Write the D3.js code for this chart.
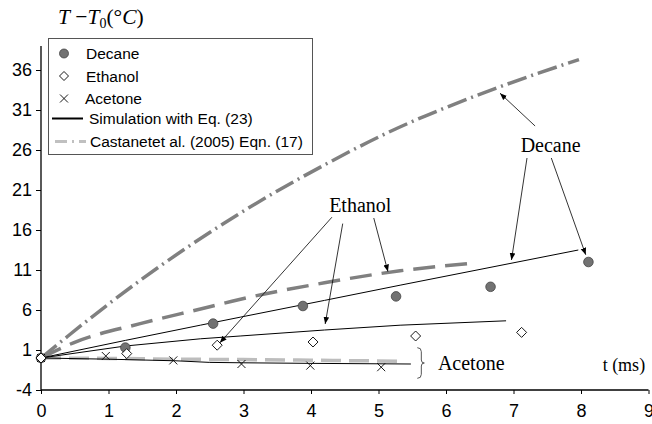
<!DOCTYPE html>
<html><head><meta charset="utf-8">
<script src="https://cdn.jsdelivr.net/npm/d3@7"></script>
<style>body{margin:0;background:#fff}svg{display:block}</style>
</head><body>
<svg id="c" width="652" height="424"></svg>
<script>
// ---- data ----
const xTicks = [0,1,2,3,4,5,6,7,8,9];
const yTicks = [-4,1,6,11,16,21,26,31,36];

const tDecane = [0, 1.25, 2.55, 3.88, 5.26, 6.66, 8.11];
const decane  = [0, 1.3, 4.3, 6.5, 7.7, 8.9, 12.0];
const tEthanol = [0, 1.27, 2.61, 4.03, 5.55, 7.12];
const ethanol  = [0, 0.55, 1.6, 2.0, 2.75, 3.2];
const tAcetone = [0, 0.96, 1.96, 2.97, 3.99, 5.04];
const acetone  = [0, 0.25, -0.3, -0.75, -0.95, -1.15];

const tSimDecane = [0, 1.25, 2.36, 2.95, 4.2, 5.32, 7.96];
const simDecane  = [0, 2.2, 4.1, 5.1, 7.2, 9.1, 13.5];
const tSimEthanol = [0, 1.25, 2.36, 2.95, 4.2, 5.32, 6.89];
const simEthanol  = [0, 1.5, 2.4, 2.75, 3.5, 4.1, 4.65];
const tSimAcetone = [0, 1, 2, 2.5, 3, 4, 5.48];
const simAcetone  = [0, -0.15, -0.35, -0.55, -0.6, -0.67, -0.75];

const tCastDecane = [0, 0.4, 1.42, 2.93, 4.28, 5.02, 6.8, 7.97];
const castDecane  = [0, 2.75, 9.4, 18, 24.5, 27.7, 33.9, 37.3];
const tCastEthanol = [0, 0.48, 1.47, 2.5, 2.83, 4.2, 5.32, 6.33];
const castEthanol  = [0, 1.9, 4.3, 6.4, 7.1, 9.4, 10.9, 11.8];
const tCastAcetone = [0, 1, 2, 3, 4, 5.33];
const castAcetone  = [0, -0.05, -0.15, -0.2, -0.28, -0.4];

const legendLabels = ["Decane","Ethanol","Acetone","Simulation with Eq. (23)","Castanetet al. (2005) Eqn. (17)"];

// annotations in data units: [fromX, fromY, toX, toY]
const decaneArrows = [[7.32,29,6.8,33.1],[7.2,25,6.97,12.25],[7.56,25,8.07,12.9]];
const ethanolArrows = [[4.31,17.6,2.65,1.9],[4.47,16.8,4.21,4.25],[4.93,17.5,5.14,10.8]];
const decaneLabel = {x:7.55, y:25.8, text:"Decane"};
const ethanolLabel = {x:4.73, y:18.2, text:"Ethanol"};
const acetoneLabel = {x:5.88, y:-1.5, text:"Acetone"};
const bracket = {x:5.59, y0:1.29, y1:-2.54};
const xTitle = {x:8.95, y:-1.6, text:"t (ms)"};

// ---- drawing ----
const svg = d3.select("#c");
const x = d3.scaleLinear().domain([0,9]).range([41,648.5]);
const y = d3.scaleLinear().domain([-4,39]).range([390,46]);
const zip = (a,b)=>a.map((v,i)=>[v,b[i]]);

svg.append("defs").append("marker").attr("id","ah").attr("viewBox","0 0 10 10")
  .attr("refX",10).attr("refY",5).attr("markerWidth",7).attr("markerHeight",7)
  .attr("markerUnits","userSpaceOnUse").attr("orient","auto")
  .append("path").attr("d","M0,1 L10,5 L0,9 z").attr("fill","#000");

// axes
const gx = svg.append("g").attr("transform",`translate(0,${y(-4)})`)
  .call(d3.axisBottom(x).tickValues(xTicks).tickSize(4).tickPadding(10).tickFormat(d=>String(d)));
const gy = svg.append("g").attr("transform",`translate(${x(0)},0)`)
  .call(d3.axisLeft(y).tickValues(yTicks).tickSize(5).tickPadding(4).tickFormat(d=>String(d)));
[gx,gy].forEach(g=>{
  g.select(".domain").attr("stroke","#000").attr("stroke-width",1.3);
  g.selectAll(".tick line").attr("stroke","#000");
  g.selectAll("text").attr("font-family","Liberation Sans, Arial, sans-serif").attr("font-size",18).attr("fill","#000");
});
gy.select(".domain").attr("d",`M0,${y(39)}V${y(-4)}`);
gx.select(".domain").attr("d",`M${x(0)},0H${x(9)}`);

const curve = d3.line().x(d=>x(d[0])).y(d=>y(d[1])).curve(d3.curveMonotoneX);
const lin = d3.line().x(d=>x(d[0])).y(d=>y(d[1]));

// Castanet curves
svg.append("path").attr("d",curve(zip(tCastDecane,castDecane))).attr("fill","none")
  .attr("stroke","#808080").attr("stroke-width",3.5).attr("stroke-dasharray","20,5,2,5");
svg.append("path").attr("d",curve(zip(tCastEthanol,castEthanol))).attr("fill","none")
  .attr("stroke","#808080").attr("stroke-width",3.5).attr("stroke-dasharray","22,10");
svg.append("path").attr("d",curve(zip(tCastAcetone,castAcetone))).attr("fill","none")
  .attr("stroke","#bdbdbd").attr("stroke-width",3.5).attr("stroke-dasharray","20,8");

// Simulation lines
[[tSimDecane,simDecane],[tSimEthanol,simEthanol],[tSimAcetone,simAcetone]].forEach(([t,v])=>{
  svg.append("path").attr("d",lin(zip(t,v))).attr("fill","none").attr("stroke","#000").attr("stroke-width",1);
});

// markers
const diamond = s=>`M0,${-s}L${s},0L0,${s}L${-s},0Z`;
const cross = s=>`M${-s},${-s}L${s},${s}M${-s},${s}L${s},${-s}`;
svg.append("g").selectAll("circle").data(zip(tDecane,decane)).join("circle")
  .attr("cx",d=>x(d[0])).attr("cy",d=>y(d[1])).attr("r",4.8)
  .attr("fill","#727272").attr("stroke","#444").attr("stroke-width",0.8);
svg.append("g").selectAll("path").data(zip(tAcetone,acetone)).join("path")
  .attr("transform",d=>`translate(${x(d[0])},${y(d[1])})`).attr("d",cross(4))
  .attr("stroke","#000").attr("stroke-width",0.9).attr("fill","none");
svg.append("g").selectAll("path").data(zip(tEthanol,ethanol)).join("path")
  .attr("transform",d=>`translate(${x(d[0])},${y(d[1])})`).attr("d",diamond(5))
  .attr("stroke","#000").attr("stroke-width",0.9).attr("fill","#fff");

// annotations
const serif = "Liberation Serif, Times New Roman, serif";
[...decaneArrows,...ethanolArrows].forEach(a=>{
  svg.append("line").attr("x1",x(a[0])).attr("y1",y(a[1])).attr("x2",x(a[2])).attr("y2",y(a[3]))
    .attr("stroke","#000").attr("stroke-width",0.8).attr("marker-end","url(#ah)");
});
[decaneLabel,ethanolLabel].forEach(l=>{
  svg.append("text").attr("x",x(l.x)).attr("y",y(l.y)).attr("text-anchor","middle")
    .attr("font-family",serif).attr("font-size",20).text(l.text);
});
svg.append("text").attr("x",x(acetoneLabel.x)).attr("y",y(acetoneLabel.y))
  .attr("font-family",serif).attr("font-size",20).text(acetoneLabel.text);
svg.append("text").attr("x",x(xTitle.x)).attr("y",y(xTitle.y)).attr("text-anchor","end")
  .attr("font-family",serif).attr("font-size",18).text(xTitle.text);
{
  const bx=x(bracket.x), b0=y(bracket.y0), b1=y(bracket.y1), bm=(b0+b1)/2;
  svg.append("path").attr("fill","none").attr("stroke","#555").attr("stroke-width",1)
    .attr("d",`M${bx-1},${b0} Q${bx+3},${b0} ${bx+3},${b0+4} L${bx+3},${bm-3} Q${bx+3},${bm} ${bx+6},${bm} Q${bx+3},${bm} ${bx+3},${bm+3} L${bx+3},${b1-4} Q${bx+3},${b1} ${bx-1},${b1}`);
}

// y title
const yt = svg.append("text").attr("x",58).attr("y",24).attr("font-family",serif).attr("font-size",21.5);
yt.append("tspan").attr("font-style","italic").text("T");
yt.append("tspan").text(" \u2212");
yt.append("tspan").attr("font-style","italic").text("T");
yt.append("tspan").attr("font-size",14).attr("dy",4).text("0");
yt.append("tspan").attr("dy",-4).text("(\u00B0");
yt.append("tspan").attr("font-style","italic").text("C");
yt.append("tspan").text(")");

// legend
const lg = svg.append("g");
lg.append("rect").attr("x",48.5).attr("y",38.5).attr("width",264).attr("height",116)
  .attr("fill","#fff").attr("stroke","#555").attr("stroke-width",1);
const rowY = [53.5,76,98.5,118.5,141.5];
const sans = "Liberation Sans, Arial, sans-serif";
const textX = [86,86,85,89,90];
legendLabels.forEach((t,i)=>{
  lg.append("text").attr("x",textX[i]).attr("y",rowY[i]+5.5).attr("font-family",sans).attr("font-size",15.5).text(t);
});
lg.append("circle").attr("cx",64).attr("cy",rowY[0]).attr("r",4.5).attr("fill","#727272").attr("stroke","#444").attr("stroke-width",0.8);
lg.append("path").attr("transform",`translate(64,${rowY[1]})`).attr("d",diamond(4.5)).attr("fill","#fff").attr("stroke","#000").attr("stroke-width",0.9);
lg.append("path").attr("transform",`translate(64,${rowY[2]})`).attr("d",cross(4)).attr("fill","none").attr("stroke","#000").attr("stroke-width",0.9);
lg.append("line").attr("x1",52).attr("x2",83).attr("y1",rowY[3]).attr("y2",rowY[3]).attr("stroke","#000").attr("stroke-width",2);
lg.append("line").attr("x1",55).attr("x2",86).attr("y1",rowY[4]).attr("y2",rowY[4]).attr("stroke","#c0c0c0").attr("stroke-width",3).attr("stroke-dasharray","12,5,2,5");
</script>
</body></html>
